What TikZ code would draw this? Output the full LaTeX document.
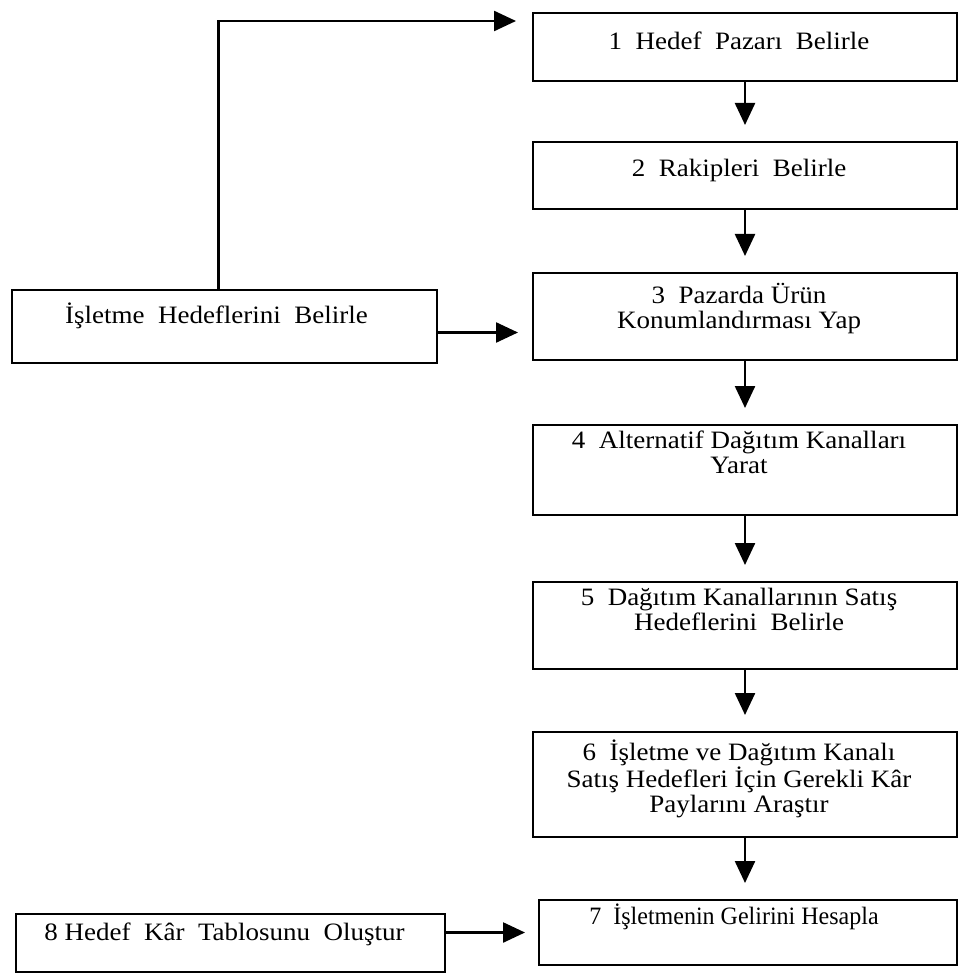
\documentclass[tikz,border=0pt]{standalone}
\usepackage{fontspec}
\setmainfont{Liberation Serif}[FakeStretch=1.08]
\newfontfamily\dar{Liberation Serif}[FakeStretch=0.96]
\usetikzlibrary{arrows.meta}
\begin{document}
\begin{tikzpicture}[x=1pt,y=-1pt,line width=2pt,font=\fontsize{25}{25}\selectfont,
  kutu/.style={draw,minimum width=424pt,inner sep=0pt},
  yazi/.style={anchor=north,align=center,inner sep=0pt,xshift=-6pt,execute at begin node=\rule{0pt}{22pt}},
  ok/.style={-{Triangle[length=22pt,width=20pt]},line width=2.4pt,shorten >=16pt}]
\useasboundingbox (0,0) rectangle (958,973);
\node[kutu,minimum height=68pt] (b1) at (745,47) {};
\node[yazi,yshift=-15pt] (y1) at (b1.north) {1~ Hedef~ Pazarı~ Belirle};
\node[kutu,minimum height=67pt] (b2) at (745,175.5) {};
\node[yazi,yshift=-13pt] (y2) at (b2.north) {2~ Rakipleri~ Belirle};
\node[kutu,minimum height=87pt] (b3) at (745,316.5) {};
\node[yazi,yshift=-10pt] (y3) at (b3.north) {3~ Pazarda Ürün\\Konumlandırması Yap};
\node[kutu,minimum height=90pt] (b4) at (745,470) {};
\node[yazi,yshift=-6pt] (y4) at (b4.north) {4~ Alternatif Dağıtım Kanalları\\Yarat};
\node[kutu,minimum height=87pt] (b5) at (745,625.5) {};
\node[yazi,yshift=-6pt] (y5) at (b5.north) {5~ Dağıtım Kanallarının Satış\\Hedeflerini~ Belirle};
\node[kutu,minimum height=105pt] (b6) at (745,784.5) {};
\node[yazi,yshift=-8pt] (y6) at (b6.north) {6~ İşletme ve Dağıtım Kanalı\\Satış Hedefleri İçin Gerekli Kâr\\Paylarını Araştır};
\node[kutu,minimum width=418pt,minimum height=65pt] (b7) at (748,932.5) {};
\node[yazi,yshift=-2pt,xshift=-8pt,font=\dar\fontsize{25}{25}\selectfont] (y7) at (b7.north) {7~ İşletmenin Gelirini Hesapla};
\node[kutu,minimum width=425pt,minimum height=73pt] (is) at (224.5,326.5) {};
\node[yazi,yshift=-11pt,xshift=-2pt] (yi) at (is.north) {İşletme~ Hedeflerini~ Belirle};
\node[kutu,minimum width=429pt,minimum height=58pt] (b8) at (230.5,943) {};
\node[yazi,yshift=-4pt] (y8) at (b8.north) {8 Hedef~ Kâr~ Tablosunu~ Oluştur};
\draw[ok] (b1) -- (b2);\draw[ok] (b2) -- (b3);\draw[ok] (b3) -- (b4);
\draw[ok] (b4) -- (b5);\draw[ok] (b5) -- (b6);\draw[ok] (b6.south) -- (b6.south|-b7.north);
\draw[ok] ([xshift=-6pt]is.north) |- ([yshift=-9pt]b1.north west);
\draw[ok,shorten >=14pt] ([yshift=-6pt]is.east) -- ([yshift=-6pt]is.east -| b3.west);
\draw[ok,shorten >=13pt] (b7.west -| b8.east) -- (b7.west);
\end{tikzpicture}
\end{document}
